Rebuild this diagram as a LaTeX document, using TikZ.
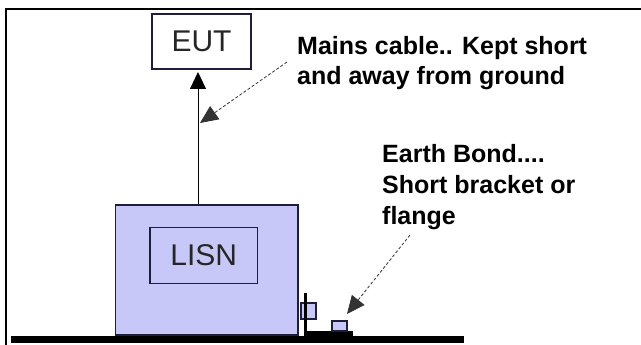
\documentclass[tikz,border=0pt]{standalone}
\usepackage{fontspec}
\setmainfont{Liberation Sans}
\usetikzlibrary{arrows.meta}
\definecolor{lav}{RGB}{200,200,248}
\definecolor{navy}{RGB}{30,30,60}
\tikzset{
  boxline/.style={draw=navy, line width=1.5pt},
  lbl/.style={anchor=base west, inner sep=0pt, align=left, font=\fontsize{25}{31}\selectfont\bfseries},
  boxtext/.style={font=\fontsize{30}{32}\selectfont, text=black!85},
  pointer/.style={densely dashed, line width=0.8pt, draw=black!80, -{Triangle[length=18pt,width=16pt]}},
  cable/.style={line width=1pt, -{Triangle[length=17pt,width=16pt]}}
}
\begin{document}
\begin{tikzpicture}[x=1pt,y=-1pt]
\useasboundingbox (0,0) rectangle (641,345);
% frame
\draw[line width=2pt] (641,9) -- (6,9) -- (6,345);
% ground
\fill (11,336) rectangle (464,343);
% LISN
\node[boxline, fill=lav, minimum width=182.5pt, minimum height=130pt, inner sep=0pt, anchor=north west] (lisn) at (114.5,204) {};
\node[boxline, boxtext, minimum width=107.5pt, minimum height=55.6pt, inner sep=0pt] (lisnin) at (203.75,255.5) {LISN};
% EUT
\node[boxline, boxtext, fill=white, minimum width=99pt, minimum height=55pt, inner sep=0pt] (eut) at (201.5,41.5) {EUT};
% cable
\coordinate (ctop) at (198,204);
\coordinate (cend) at (198,72);
\draw[cable] (ctop) -- (cend);
% bracket
\draw[boxline, line width=1.2pt, fill=lav] (301,303) rectangle (316,319) coordinate (bolt);
\fill (303.5,293) rectangle (307,336);
\fill (305,331) rectangle (353,337);
\draw[boxline, line width=1.2pt, fill=lav] (332,321) rectangle (347,331);
\coordinate (flangetip) at (347,314);
% labels
\node[lbl] (mains) at (297,85) {Mains cable.. Kept short\\and away from ground};
\node[lbl] (earth) at (382,224) {Earth Bond....\\Short bracket or\\flange};
\coordinate (mstart) at (287,62);
\coordinate (mtip) at (200,123);
\draw[pointer] (mstart) -- (mtip);
\coordinate (estart) at (410,235);
\draw[pointer] (estart) -- (flangetip);
\end{tikzpicture}
\end{document}
